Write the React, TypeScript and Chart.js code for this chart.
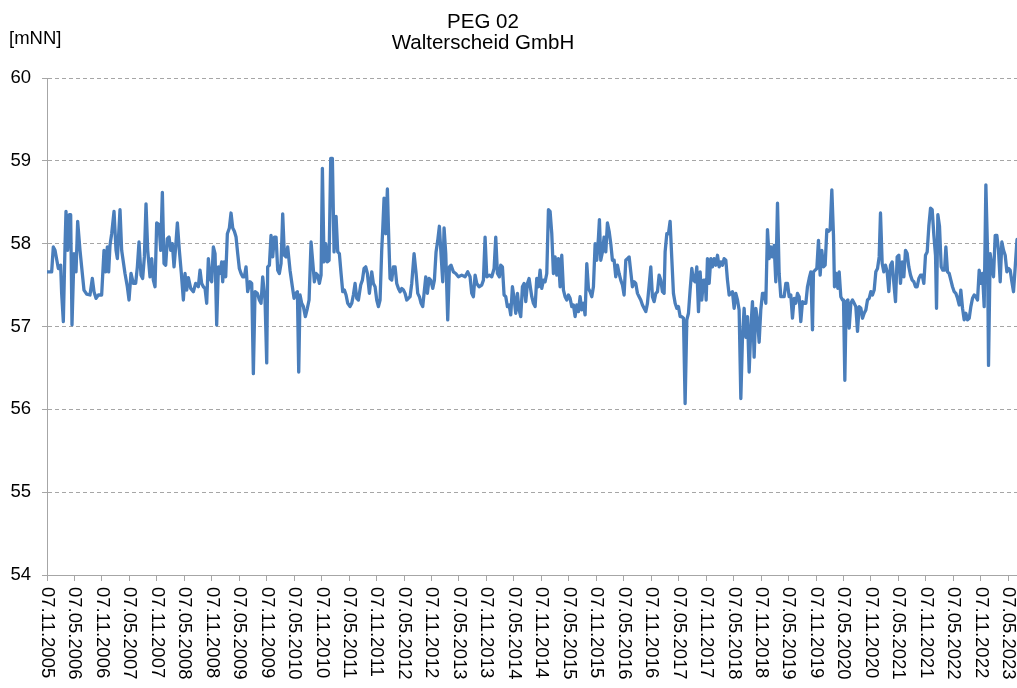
import React, { useEffect, useRef } from "react";
import { Chart, registerables } from "chart.js";

Chart.register(...registerables);

// Title lines and axis unit
const TITLE_LINES = ["PEG 02", "Walterscheid GmbH"];
const Y_UNIT = "[mNN]";

// Y axis range (m above sea level, mNN)
const Y_MIN = 54;
const Y_MAX = 60;

// X axis: months elapsed since 07.11.2005
const X_MIN = 0;
const X_MAX = 211.9;
const X_STEP = 6;

const tickLabels = [
  "07.11.2005", "07.05.2006", "07.11.2006", "07.05.2007", "07.11.2007", "07.05.2008",
  "07.11.2008", "07.05.2009", "07.11.2009", "07.05.2010", "07.11.2010", "07.05.2011",
  "07.11.2011", "07.05.2012", "07.11.2012", "07.05.2013", "07.11.2013", "07.05.2014",
  "07.11.2014", "07.05.2015", "07.11.2015", "07.05.2016", "07.11.2016", "07.05.2017",
  "07.11.2017", "07.05.2018", "07.11.2018", "07.05.2019", "07.11.2019", "07.05.2020",
  "07.11.2020", "07.05.2021", "07.11.2021", "07.05.2022", "07.11.2022", "07.05.2023",
];

// Water level readings: [months since 07.11.2005, level in mNN]
const levels2005to2008: [number, number][] = [
  [0, 57.66], [1.02, 57.66], [1.38, 57.96], [1.75, 57.92], [2.48, 57.7], [2.98, 57.74], [3.2, 57.4],
  [3.57, 57.06], [3.93, 57.96], [4.15, 58.39], [4.51, 57.92], [4.88, 58.35], [5.17, 58.35], [5.46, 57.02],
  [5.9, 57.88], [6.34, 57.66], [6.7, 58.27], [7.21, 57.92], [7.57, 57.72], [8.08, 57.44], [8.67, 57.39],
  [9.39, 57.38], [9.9, 57.58], [10.27, 57.42], [10.71, 57.34], [11.22, 57.38], [11.94, 57.38], [12.45, 57.92],
  [12.82, 57.66], [13.18, 57.96], [13.47, 57.66], [13.76, 57.98], [14.13, 58.12], [14.64, 58.39], [15.08, 57.92],
  [15.37, 57.82], [15.95, 58.41], [16.31, 57.92], [17.04, 57.64], [17.55, 57.48], [17.92, 57.32], [18.35, 57.64],
  [18.86, 57.52], [19.37, 57.52], [19.74, 57.72], [20.1, 58.02], [20.54, 57.62], [20.9, 57.58], [21.27, 57.84],
  [21.63, 58.48], [22.0, 57.92], [22.5, 57.6], [22.87, 57.82], [23.23, 57.56], [23.6, 57.48], [23.96, 58.25],
  [24.47, 58.23], [24.84, 57.92], [25.2, 58.62], [25.56, 57.76], [25.93, 57.74], [26.29, 58.06], [26.66, 58.08],
  [27.02, 57.92], [27.38, 58.0], [27.75, 57.72], [28.11, 57.96], [28.48, 58.25], [28.91, 57.92], [29.35, 57.64],
  [29.79, 57.32], [30.15, 57.64], [30.52, 57.44], [30.88, 57.59], [31.39, 57.46], [31.97, 57.42], [32.48, 57.52],
  [33.06, 57.48],
];

const levels2008to2011: [number, number][] = [
  [33.43, 57.68], [33.79, 57.52], [34.16, 57.48], [34.52, 57.46], [34.89, 57.28], [35.25, 57.82], [35.61, 57.58],
  [35.98, 57.54], [36.34, 57.96], [36.71, 57.88], [37.07, 57.02], [37.44, 57.72], [37.8, 57.64], [38.16, 57.78],
  [38.38, 57.54], [38.67, 57.78], [39.04, 57.6], [39.4, 58.12], [39.84, 58.19], [40.2, 58.37], [40.57, 58.19],
  [40.93, 58.15], [41.3, 58.08], [41.66, 57.88], [42.02, 57.7], [42.39, 57.64], [42.75, 57.6], [43.12, 57.6],
  [43.48, 57.72], [43.84, 57.42], [44.35, 57.54], [44.72, 57.52], [45.08, 56.43], [45.45, 57.42], [45.96, 57.4],
  [46.39, 57.32], [46.76, 57.28], [47.12, 57.6], [47.63, 57.32], [48.0, 56.56], [48.21, 57.72], [48.58, 57.74],
  [48.94, 58.1], [49.31, 57.84], [49.67, 58.08], [50.04, 58.08], [50.4, 57.68], [50.76, 57.64], [51.13, 57.76],
  [51.49, 58.36], [51.86, 57.86], [52.22, 57.84], [52.58, 57.96], [53.09, 57.68], [53.6, 57.48], [53.97, 57.34],
  [54.33, 57.4], [54.7, 57.42], [54.99, 56.45], [55.28, 57.38], [55.64, 57.28], [56.01, 57.24], [56.44, 57.12],
  [56.88, 57.22], [57.25, 57.32], [57.68, 58.02], [58.05, 57.78], [58.41, 57.54], [58.77, 57.64], [59.14, 57.62],
  [59.5, 57.52], [59.87, 57.62], [60.16, 58.91], [60.52, 57.78], [60.89, 58.0], [61.25, 57.78], [61.62, 57.8],
  [61.98, 59.03], [62.34, 59.03], [62.71, 57.9], [63.15, 58.33], [63.51, 57.9], [63.87, 57.88], [64.24, 57.64],
  [64.6, 57.42], [64.97, 57.44], [65.33, 57.38], [65.7, 57.28], [66.2, 57.24], [66.57, 57.28], [66.93, 57.38],
  [67.3, 57.52], [67.66, 57.34], [68.03, 57.32], [68.53, 57.5], [68.9, 57.56], [69.26, 57.7], [69.63, 57.72],
  [69.99, 57.64], [70.43, 57.4],
];

const levels2011to2014: [number, number][] = [
  [70.94, 57.66], [71.3, 57.52], [71.67, 57.48], [72.03, 57.32], [72.4, 57.24], [72.76, 57.32], [73.12, 57.92],
  [73.34, 58.17], [73.63, 58.55], [74.0, 58.12], [74.36, 58.66], [74.58, 58.21], [74.94, 57.58], [75.31, 57.56],
  [75.67, 57.72], [76.04, 57.72], [76.4, 57.52], [76.77, 57.46], [77.13, 57.42], [77.49, 57.46], [77.86, 57.44],
  [78.22, 57.4], [78.59, 57.32], [78.95, 57.34], [79.31, 57.36], [79.68, 57.52], [80.19, 57.88], [80.63, 57.64],
  [80.99, 57.4], [81.35, 57.36], [81.72, 57.28], [82.08, 57.24], [82.37, 57.4], [82.74, 57.6], [83.1, 57.4],
  [83.47, 57.58], [83.83, 57.56], [84.27, 57.46], [84.63, 57.56], [84.99, 57.9], [85.36, 58.04], [85.72, 58.21],
  [86.09, 57.86], [86.45, 57.54], [86.74, 58.19], [87.11, 57.88], [87.54, 57.08], [87.91, 57.72], [88.27, 57.74],
  [88.78, 57.66], [89.29, 57.64], [89.87, 57.6], [90.6, 57.62], [91.33, 57.6], [91.91, 57.66], [92.42, 57.6],
  [92.79, 57.4], [93.15, 57.36], [93.52, 57.62], [93.88, 57.52], [94.39, 57.48], [94.97, 57.5], [95.34, 57.56],
  [95.7, 58.08], [96.07, 57.6], [96.65, 57.62], [97.16, 57.6], [97.67, 57.7], [98.03, 58.08], [98.4, 57.64],
  [98.83, 57.6], [99.12, 57.74], [99.49, 57.72], [99.85, 57.38], [100.22, 57.36], [100.58, 57.24], [100.95, 57.26],
  [101.31, 57.14], [101.67, 57.48], [102.04, 57.34], [102.4, 57.16], [102.77, 57.4], [103.13, 57.2], [103.49, 57.12],
  [103.86, 57.48], [104.22, 57.52], [104.59, 57.3], [104.95, 57.52], [105.31, 57.58],
];

const levels2014to2017: [number, number][] = [
  [105.9, 57.36], [106.26, 57.28], [106.63, 57.24], [106.99, 57.58], [107.36, 57.48], [107.72, 57.68], [108.08, 57.46],
  [108.45, 57.56], [108.81, 57.54], [109.18, 57.64], [109.54, 58.41], [109.9, 58.39], [110.27, 58.12], [110.63, 57.64],
  [111.0, 57.84], [111.36, 57.62], [111.73, 57.82], [112.09, 57.48], [112.45, 57.86], [112.82, 57.44], [113.18, 57.36],
  [113.55, 57.32], [113.91, 57.38], [114.27, 57.34], [114.64, 57.24], [115.0, 57.26], [115.37, 57.12], [115.73, 57.26],
  [116.1, 57.18], [116.46, 57.36], [116.82, 57.2], [117.19, 57.28], [117.55, 57.14], [117.92, 57.76], [118.28, 57.46],
  [118.64, 57.42], [119.01, 57.36], [119.37, 57.48], [119.74, 58.0], [120.1, 57.8], [120.47, 58.08], [120.68, 58.29],
  [120.97, 57.8], [121.34, 57.9], [121.7, 58.08], [122.07, 57.9], [122.43, 58.25], [122.8, 58.15], [123.16, 58.0],
  [123.52, 57.8], [123.89, 57.8], [124.25, 57.6], [124.62, 57.74], [124.98, 57.64], [125.34, 57.56], [125.71, 57.5],
  [126.07, 57.38], [126.44, 57.8], [126.8, 57.82], [127.17, 57.84], [127.53, 57.66], [127.89, 57.48], [128.26, 57.54],
  [128.62, 57.52], [128.99, 57.4], [129.35, 57.36], [129.71, 57.32], [130.08, 57.26], [130.44, 57.22], [130.81, 57.18],
  [131.17, 57.28], [131.54, 57.5], [131.9, 57.72], [132.26, 57.36], [132.63, 57.3], [132.99, 57.4], [133.36, 57.42],
  [133.72, 57.62], [134.08, 57.56], [134.45, 57.42], [134.81, 57.4], [135.03, 57.9], [135.4, 58.12], [135.76, 58.12],
  [136.12, 58.27], [136.49, 57.82], [136.85, 57.4], [137.22, 57.28], [137.58, 57.22], [137.94, 57.24], [138.31, 57.12],
];

const levels2017to2020: [number, number][] = [
  [138.67, 57.12], [139.04, 57.1], [139.4, 56.07], [139.77, 57.08], [140.13, 57.16], [140.49, 57.44], [140.86, 57.7],
  [141.22, 57.56], [141.59, 57.54], [141.95, 57.72], [142.32, 57.18], [142.68, 57.66], [143.04, 57.32], [143.41, 57.56],
  [143.77, 57.56], [143.99, 57.32], [144.28, 57.82], [144.65, 57.52], [145.01, 57.82], [145.37, 57.72], [145.74, 57.82],
  [146.1, 57.74], [146.47, 57.86], [146.83, 57.72], [147.2, 57.78], [147.56, 57.74], [147.92, 57.82], [148.29, 57.8],
  [148.65, 57.56], [149.02, 57.38], [149.38, 57.4], [149.74, 57.42], [150.11, 57.22], [150.47, 57.4], [150.84, 57.32],
  [151.2, 57.2], [151.57, 56.13], [151.93, 56.87], [152.29, 57.22], [152.66, 56.87], [153.02, 57.12], [153.39, 56.45],
  [153.75, 56.97], [154.11, 57.3], [154.48, 56.63], [154.84, 57.22], [155.21, 57.08], [155.57, 56.81], [155.93, 57.2],
  [156.3, 57.4], [156.66, 57.4], [157.03, 57.28], [157.39, 58.17], [157.76, 57.82], [158.12, 57.96], [158.48, 57.84],
  [158.85, 57.98], [159.21, 57.54], [159.58, 58.49], [159.94, 57.64], [160.3, 57.36], [160.67, 57.36], [161.03, 57.36],
  [161.4, 57.52], [161.76, 57.52], [162.13, 57.36], [162.49, 57.38], [162.85, 57.1], [163.22, 57.34], [163.58, 57.28],
  [163.95, 57.4], [164.31, 57.36], [164.67, 57.06], [165.04, 57.3], [165.4, 57.28], [165.77, 57.28], [166.13, 57.48],
  [166.5, 57.58], [166.86, 57.66], [167.22, 56.96], [167.44, 57.66], [167.81, 57.68], [168.17, 57.7], [168.53, 58.04],
  [168.9, 57.62], [169.26, 57.92], [169.63, 57.72], [169.99, 57.74], [170.36, 58.17], [170.72, 58.15], [171.08, 58.17],
  [171.45, 58.65], [171.81, 58.1], [172.03, 57.48], [172.4, 57.64], [172.76, 57.46], [173.05, 57.66], [173.41, 57.36],
  [173.78, 57.32], [174.0, 57.32],
];

const levels2020to2023: [number, number][] = [
  [174.29, 56.35], [174.58, 57.3], [174.95, 57.32], [175.24, 56.98], [175.6, 57.28], [175.96, 57.32], [176.33, 57.28],
  [176.69, 57.24], [177.06, 56.94], [177.42, 57.24], [177.79, 57.22], [178.15, 57.1], [178.51, 57.16], [178.88, 57.2],
  [179.24, 57.32], [179.61, 57.34], [179.97, 57.42], [180.33, 57.38], [180.7, 57.44], [181.06, 57.66], [181.43, 57.7],
  [181.79, 57.84], [182.08, 58.37], [182.45, 57.76], [182.81, 57.66], [183.17, 57.74], [183.54, 57.66], [183.9, 57.42],
  [184.27, 57.74], [184.63, 57.78], [185.0, 57.52], [185.36, 57.3], [185.72, 57.84], [186.09, 57.86], [186.45, 57.52],
  [186.82, 57.78], [187.18, 57.6], [187.54, 57.92], [187.91, 57.88], [188.27, 57.72], [188.64, 57.62], [189.0, 57.56],
  [189.37, 57.54], [189.73, 57.48], [190.09, 57.48], [190.46, 57.58], [190.82, 57.62], [191.19, 57.62], [191.55, 57.52],
  [191.91, 57.86], [192.28, 57.9], [192.64, 58.21], [193.01, 58.43], [193.37, 58.41], [193.74, 58.1], [194.1, 57.86],
  [194.32, 57.22], [194.61, 58.35], [194.97, 58.21], [195.34, 57.72], [195.7, 57.68], [196.07, 57.68], [196.36, 57.96],
  [196.72, 57.66], [197.09, 57.64], [197.45, 57.56], [197.81, 57.48], [198.18, 57.42], [198.54, 57.4], [198.91, 57.34],
  [199.27, 57.26], [199.63, 57.44], [200.0, 57.22], [200.36, 57.08], [200.73, 57.16], [201.09, 57.08], [201.46, 57.1],
  [201.82, 57.24], [202.18, 57.34], [202.55, 57.38], [202.91, 57.36], [203.28, 57.32], [203.64, 57.68], [204.0, 57.52],
  [204.37, 57.64], [204.73, 57.24], [205.1, 58.71], [205.46, 57.92], [205.68, 56.53], [206.04, 57.88], [206.41, 57.72],
  [206.77, 57.6], [207.14, 58.1], [207.5, 58.1], [207.86, 57.92], [208.23, 57.54], [208.59, 58.02], [208.96, 57.92],
  [209.32, 57.86], [209.69, 57.66], [210.05, 57.7], [210.41, 57.68], [210.78, 57.54], [211.14, 57.42], [211.51, 57.72],
  [211.9, 58.05],
];

const FONT_FAMILY = '"Liberation Sans", Arial, Helvetica, sans-serif';
const AXIS_GRAY = "#a6a6a6";
const LINE_BLUE = "#4a7ebb";

const decorPlugin = {
  id: "decor",
  afterDraw(chart: any) {
    const { ctx, chartArea } = chart;
    const xScale = chart.scales.x;
    ctx.save();
    ctx.fillStyle = "#000";
    // rotated x tick labels (reading top to bottom)
    ctx.font = `18.5px ${FONT_FAMILY}`;
    ctx.textAlign = "left";
    ctx.textBaseline = "middle";
    xScale.ticks.forEach((t: any) => {
      const idx = Math.round((t.value - X_MIN) / X_STEP);
      const label = tickLabels[idx];
      if (!label) return;
      const px = xScale.getPixelForValue(t.value);
      ctx.save();
      ctx.translate(px, chartArea.bottom + 12);
      ctx.rotate(Math.PI / 2);
      ctx.fillText(label, 0, 0);
      ctx.restore();
    });
    // title
    ctx.textAlign = "center";
    ctx.textBaseline = "alphabetic";
    ctx.font = `20.5px ${FONT_FAMILY}`;
    ctx.fillText(TITLE_LINES[0], 483, 27.5);
    ctx.fillText(TITLE_LINES[1], 483, 48.5);
    // unit
    ctx.textAlign = "left";
    ctx.font = `18.5px ${FONT_FAMILY}`;
    ctx.fillText(Y_UNIT, 9, 44);
    ctx.restore();
  },
};

export default function App() {
  const ref = useRef<HTMLCanvasElement | null>(null);

  useEffect(() => {
    if (!ref.current) return;
    const points = [
      ...levels2005to2008,
      ...levels2008to2011,
      ...levels2011to2014,
      ...levels2014to2017,
      ...levels2017to2020,
      ...levels2020to2023,
    ].map(([x, y]) => ({ x, y }));

    const chart = new Chart(ref.current, {
      type: "line",
      data: {
        datasets: [
          {
            data: points,
            borderColor: LINE_BLUE,
            borderWidth: 3.3,
            pointRadius: 0,
            tension: 0,
            borderJoinStyle: "round",
            borderCapStyle: "round",
            fill: false,
          } as any,
        ],
      },
      options: {
        animation: false,
        responsive: false,
        events: [],
        layout: { padding: { top: 78, left: 0, right: 0, bottom: 0 } },
        plugins: {
          legend: { display: false },
          tooltip: { enabled: false },
          title: { display: false },
        },
        scales: {
          x: {
            type: "linear",
            min: X_MIN,
            max: X_MAX,
            afterFit: (s: any) => {
              s.height = 113;
            },
            ticks: { display: false, stepSize: X_STEP, includeBounds: false },
            grid: {
              drawOnChartArea: false,
              drawTicks: true,
              tickLength: 6,
              color: AXIS_GRAY,
              tickColor: AXIS_GRAY,
            },
            border: { color: AXIS_GRAY, width: 1 },
          },
          y: {
            min: Y_MIN,
            max: Y_MAX,
            afterFit: (s: any) => {
              s.width = 47;
            },
            ticks: {
              stepSize: 1,
              padding: 11,
              color: "#000",
              font: { family: FONT_FAMILY, size: 18.5 },
            },
            grid: {
              color: AXIS_GRAY,
              tickLength: 5,
              tickColor: AXIS_GRAY,
              tickBorderDash: [],
            },
            border: { color: AXIS_GRAY, width: 1, dash: [4, 3] },
          },
        },
      } as any,
      plugins: [decorPlugin],
    });
    return () => chart.destroy();
  }, []);

  return (
    <div
      style={{
        position: "fixed",
        left: 0,
        top: 0,
        width: 1017,
        height: 688,
        background: "#fff",
      }}
    >
      <canvas ref={ref} width={1017} height={688} style={{ display: "block" }} />
    </div>
  );
}
